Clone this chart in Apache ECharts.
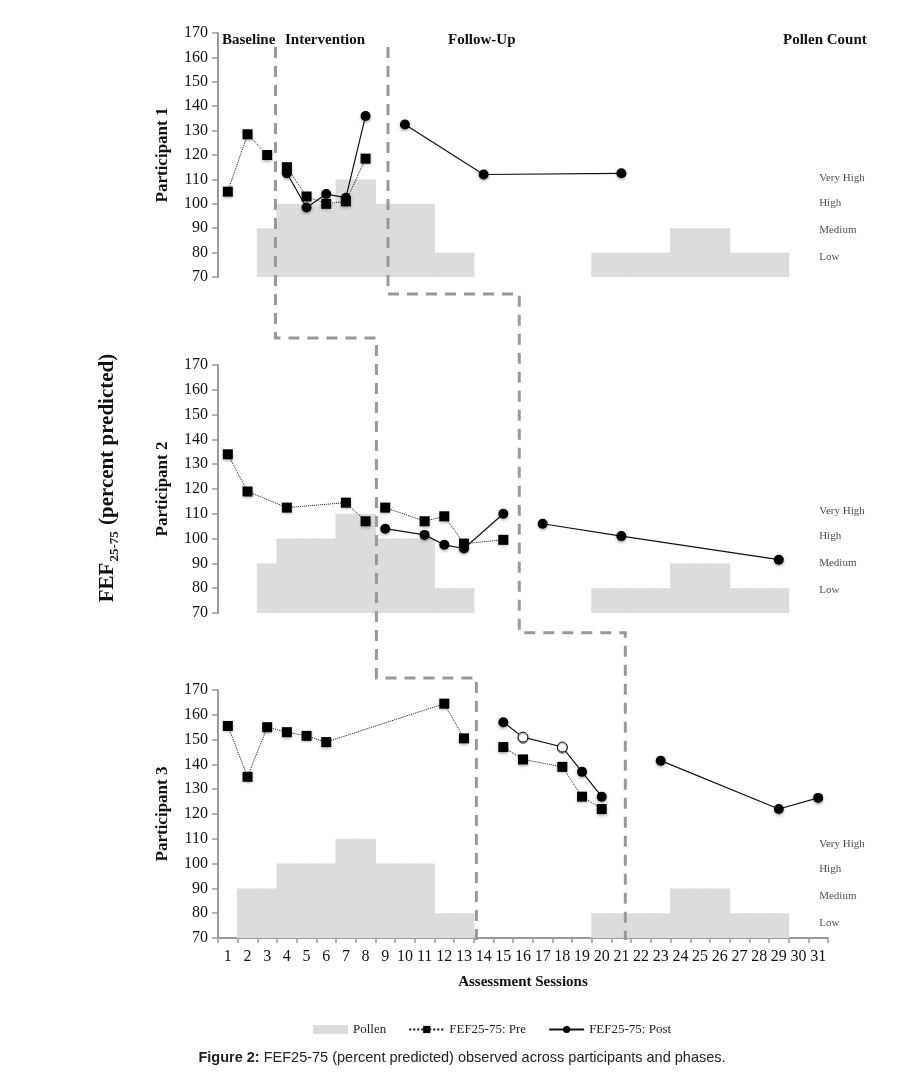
<!DOCTYPE html>
<html><head><meta charset="utf-8">
<script src="https://cdn.jsdelivr.net/npm/echarts@6/dist/echarts.min.js"></script>
<style>html,body{margin:0;padding:0;background:#fff}#c{width:924px;height:1082px}</style>
</head><body><div id="c"></div>
<script>
// ---------- DATA ----------
const sessions = ['1','2','3','4','5','6','7','8','9','10','11','12','13','14','15','16','17','18','19','20','21','22','23','24','25','26','27','28','29','30','31'];
const yMin = 70, yMax = 170, yStep = 10;
const participants = ['Participant 1','Participant 2','Participant 3'];
const phaseHeaders = ['Baseline','Intervention','Follow-Up','Pollen Count'];
const pollenLevelNames = ['Very High','High','Medium','Low'];

// pollen level per session (Low=80, Medium=90, High=100, Very High=110)
const p1Pollen = [null,null,90,100,100,100,110,110,100,100,100,80,80,null,null,null,null,null,null,80,80,80,80,90,90,90,80,80,80,null,null];
const p2Pollen = [null,null,90,100,100,100,110,110,100,100,100,80,80,null,null,null,null,null,null,80,80,80,80,90,90,90,80,80,80,null,null];
const p3Pollen = [null,90,90,100,100,100,110,110,100,100,100,80,80,null,null,null,null,null,null,80,80,80,80,90,90,90,80,80,80,null,null];

// where the pollen level labels sit (value units) per participant
const p1LevelLabelY = [110.5,100.3,89.3,78.2];
const p2LevelLabelY = [111,101,90.3,79.4];
const p3LevelLabelY = [108,97.8,86.9,76];

// FEF25-75 [session, value]
const p1PreBaseline = [[1,105],[2,128.5],[3,120]];
const p1PreIntervention = [[4,115],[5,103],[6,100],[7,101],[8,118.5]];
const p1PostIntervention = [[4,112.5],[5,98.5],[6,104],[7,102.5],[8,136]];
const p1PostFollowUp = [[10,132.5],[14,112],[21,112.5]];

const p2PreBaseline = [[1,134],[2,119],[4,112.5],[7,114.5],[8,107]];
const p2PreIntervention = [[9,112.5],[11,107],[12,109],[13,98],[15,99.5]];
const p2PostIntervention = [[9,104],[11,101.5],[12,97.5],[13,96],[15,110]];
const p2PostFollowUp = [[17,106],[21,101],[29,91.5]];

const p3PreBaseline = [[1,155.5],[2,135],[3,155],[4,153],[5,151.5],[6,149],[12,164.5],[13,150.5]];
const p3PreIntervention = [[15,147],[16,142],[18,139],[19,127],[20,122]];
const p3PostIntervention = [[15,157],[16,151],[18,147],[19,137],[20,127]];
const p3PostFollowUp = [[23,141.5],[29,122],[31,126.5]];
const p3PostMasked = [16,18]; // markers drawn hollow-looking in the figure

// phase change positions (session units) for each participant
const interventionStart = [3.42, 8.55, 13.63];
const followUpStart = [9.14, 15.81, 21.2];

// ---------- LAYOUT / STYLE ----------
const SERIF = '"Liberation Serif", "DejaVu Serif", serif';
const grids = [
  {left:218, right:96, top:33, height:244},
  {left:218, right:96, top:365, height:248},
  {left:218, right:96, top:690, height:248}
];
const pollenColor = '#dcdcdc';
const axisGray = '#9a9a9a';
const markerShadow = {shadowBlur:3, shadowColor:'rgba(0,0,0,0.35)', shadowOffsetY:1.5};

const chart = echarts.init(document.getElementById('c'));

const xAxes = grids.map((g,i)=>({
  type:'category', gridIndex:i, data:sessions, boundaryGap:true,
  show: i===2,
  axisLine:{show:true, lineStyle:{color:axisGray, width:2}},
  axisTick:{show:true, interval:0, length:5, lineStyle:{color:axisGray, width:1.5}},
  axisLabel:{interval:0, margin:11, color:'#111', fontFamily:SERIF, fontSize:16},
  name: i===2 ? 'Assessment Sessions' : '',
  nameLocation:'middle', nameGap:37,
  nameTextStyle:{fontFamily:SERIF, fontWeight:'bold', fontSize:15, color:'#111'}
}));
const yAxes = grids.map((g,i)=>({
  type:'value', gridIndex:i, min:yMin, max:yMax, interval:yStep,
  splitLine:{show:false},
  axisLine:{show:true, lineStyle:{color:axisGray, width:2}},
  axisTick:{show:true, length:6, lineStyle:{color:axisGray, width:1.5}},
  axisLabel:{margin:10, color:'#111', fontFamily:SERIF, fontSize:16},
  name: participants[i], nameLocation:'middle', nameGap:47,
  nameTextStyle:{fontFamily:SERIF, fontWeight:'bold', fontSize:17, color:'#111'}
}));

const toCat = arr => arr.map(([s,v]) => [String(s), v]);
function preSeries(gi, data){
  return {name:'FEF25-75: Pre', type:'line', xAxisIndex:gi, yAxisIndex:gi, z:4,
    data:toCat(data), symbol:'rect', symbolSize:10,
    lineStyle:{color:'#111', width:1, type:'dotted'},
    itemStyle:Object.assign({color:'#000'}, markerShadow)};
}
function postSeries(gi, data, masked){
  const d = data.map(([s,v]) => {
    if (masked && masked.indexOf(s) >= 0) {
      return {value:[String(s), v], itemStyle:{color:'#fff', borderColor:'#000', borderWidth:1, shadowBlur:0}};
    }
    return [String(s), v];
  });
  return {name:'FEF25-75: Post', type:'line', xAxisIndex:gi, yAxisIndex:gi, z:5,
    data:d, symbol:'circle', symbolSize:10,
    lineStyle:{color:'#111', width:1.2, type:'solid'},
    itemStyle:Object.assign({color:'#000'}, markerShadow)};
}
function pollenSeries(gi, data){
  return {name:'Pollen', type:'bar', xAxisIndex:gi, yAxisIndex:gi, z:1,
    data:data, barWidth:'106%', barGap:'-100%', barCategoryGap:'0%',
    itemStyle:{color:pollenColor, borderWidth:0}, silent:true};
}
function levelLabelSeries(gi, ys){
  return {type:'scatter', xAxisIndex:gi, yAxisIndex:gi, z:3, silent:true,
    symbolSize:0, data: ys.map((y,k)=>({value:['31', y], name:pollenLevelNames[k]})),
    label:{show:true, position:'right', distance:1, formatter:p=>p.name,
      fontFamily:SERIF, fontSize:11, color:'#1a1a1a'}};
}

const series = [
  pollenSeries(0,p1Pollen), pollenSeries(1,p2Pollen), pollenSeries(2,p3Pollen),
  levelLabelSeries(0,p1LevelLabelY), levelLabelSeries(1,p2LevelLabelY), levelLabelSeries(2,p3LevelLabelY),
  preSeries(0,p1PreBaseline), preSeries(0,p1PreIntervention),
  postSeries(0,p1PostIntervention), postSeries(0,p1PostFollowUp),
  preSeries(1,p2PreBaseline), preSeries(1,p2PreIntervention),
  postSeries(1,p2PostIntervention), postSeries(1,p2PostFollowUp),
  preSeries(2,p3PreBaseline), preSeries(2,p3PreIntervention),
  postSeries(2,p3PostIntervention,p3PostMasked), postSeries(2,p3PostFollowUp)
];

chart.setOption({
  animation:false,
  backgroundColor:'#fff',
  grid: grids.map(g=>Object.assign({outerBoundsMode:'none', containLabel:false}, g)),
  xAxis:xAxes, yAxis:yAxes, series:series,
  legend:{
    left:308, top:1018, orient:'horizontal', itemWidth:35, itemHeight:9, itemGap:22,
    textStyle:{fontFamily:SERIF, fontSize:13, color:'#222'},
    data:[{name:'Pollen', icon:'rect'}, {name:'FEF25-75: Pre'}, {name:'FEF25-75: Post'}]
  }
});

// ---------- annotations: phase lines, headers, titles ----------
const xa = chart.convertToPixel({xAxisIndex:2}, 0);
const xb = chart.convertToPixel({xAxisIndex:2}, 1);
const sx = s => xa + (s - 1) * (xb - xa);
const topY = 47, bottomY = 940, gap12a = 294, gap12b = 338, gap23a = 632.7, gap23b = 678;
const dashStyle = {stroke:'#999', lineWidth:3, lineDash:[11,8], fill:null};
const intPts = [[sx(interventionStart[0]),topY],[sx(interventionStart[0]),gap12b],[sx(interventionStart[1]),gap12b],
  [sx(interventionStart[1]),gap23b],[sx(interventionStart[2]),gap23b],[sx(interventionStart[2]),bottomY]];
const fuPts = [[sx(followUpStart[0]),topY],[sx(followUpStart[0]),gap12a],[sx(followUpStart[1]),gap12a],
  [sx(followUpStart[1]),gap23a],[sx(followUpStart[2]),gap23a],[sx(followUpStart[2]),bottomY]];

const headerX = [222, 285, 448, 783];
const graphic = [
  {type:'polyline', z:3, silent:true, shape:{points:intPts}, style:dashStyle},
  {type:'polyline', z:3, silent:true, shape:{points:fuPts}, style:dashStyle},
  ...phaseHeaders.map((t,k)=>({type:'text', z:6, x:headerX[k], y:40,
     style:{text:t, font:'bold 15px '+SERIF, fill:'#111', align:'left', verticalAlign:'middle'}})),
  {type:'text', z:6, x:108, y:478, rotation:Math.PI/2,
   style:{text:'{a|FEF}{b|25-75}{a| (percent predicted)}', align:'center', verticalAlign:'middle', fill:'#111',
     rich:{a:{fontFamily:SERIF, fontWeight:'bold', fontSize:21, lineHeight:26, verticalAlign:'middle'},
           b:{fontFamily:SERIF, fontWeight:'bold', fontSize:13, lineHeight:26, verticalAlign:'bottom', padding:[0,1,0,1]}}}},
  {type:'text', z:6, x:462, y:1058,
   style:{text:'{b|Figure 2:}{n| FEF25-75 (percent predicted) observed across participants and phases.}',
     align:'center', verticalAlign:'middle', fill:'#222',
     rich:{b:{fontFamily:'"Liberation Sans", Arial, sans-serif', fontWeight:'bold', fontSize:14.5},
           n:{fontFamily:'"Liberation Sans", Arial, sans-serif', fontSize:14.5}}}}
];
chart.setOption({graphic:graphic});
</script>
</body></html>
